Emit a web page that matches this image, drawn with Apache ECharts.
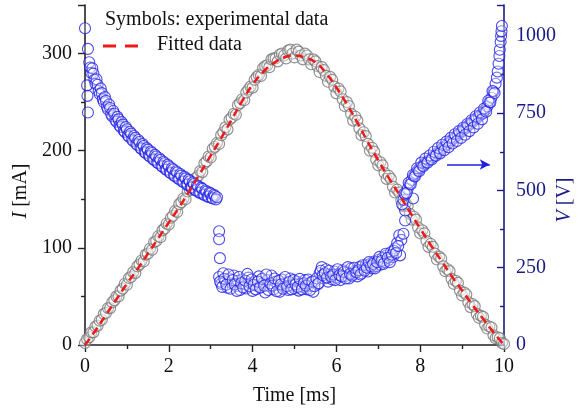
<!DOCTYPE html>
<html><head><meta charset="utf-8">
<script src="https://cdn.jsdelivr.net/npm/echarts@6/dist/echarts.min.js"></script>
<style>html,body{margin:0;padding:0;background:#fff}#c{width:582px;height:411px}</style>
</head><body><div id="c"></div>
<script>
// ---- Data ----
// Experimental current I [mA], sampled every 0.05 ms from 0 to 10 ms
const expTime = [0,0.05,0.1,0.15,0.2,0.25,0.3,0.35,0.4,0.45,0.5,0.55,0.6,0.65,0.7,0.75,0.8,0.85,0.9,0.95,
1,1.05,1.1,1.15,1.2,1.25,1.3,1.35,1.4,1.45,1.5,1.55,1.6,1.65,1.7,1.75,1.8,1.85,1.9,1.95,
2,2.05,2.1,2.15,2.2,2.25,2.3,2.35,2.4,2.45,2.5,2.55,2.6,2.65,2.7,2.75,2.8,2.85,2.9,2.95,
3,3.05,3.1,3.15,3.2,3.25,3.3,3.35,3.4,3.45,3.5,3.55,3.6,3.65,3.7,3.75,3.8,3.85,3.9,3.95,
4,4.05,4.1,4.15,4.2,4.25,4.3,4.35,4.4,4.45,4.5,4.55,4.6,4.65,4.7,4.75,4.8,4.85,4.9,4.95,
5,5.05,5.1,5.15,5.2,5.25,5.3,5.35,5.4,5.45,5.5,5.55,5.6,5.65,5.7,5.75,5.8,5.85,5.9,5.95,
6,6.05,6.1,6.15,6.2,6.25,6.3,6.35,6.4,6.45,6.5,6.55,6.6,6.65,6.7,6.75,6.8,6.85,6.9,6.95,
7,7.05,7.1,7.15,7.2,7.25,7.3,7.35,7.4,7.45,7.5,7.55,7.6,7.65,7.7,7.75,7.8,7.85,7.9,7.95,
8,8.05,8.1,8.15,8.2,8.25,8.3,8.35,8.4,8.45,8.5,8.55,8.6,8.65,8.7,8.75,8.8,8.85,8.9,8.95,
9,9.05,9.1,9.15,9.2,9.25,9.3,9.35,9.4,9.45,9.5,9.55,9.6,9.65,9.7,9.75,9.8,9.85,9.9,9.95,10];
const expCurrent = [2,6,8,13,13,19,20,25,26,32,33,38,38,44,46,50,50,56,58,63,
62,69,70,75,74,81,83,87,86,93,94,99,98,106,107,112,111,118,120,125,
124,131,133,138,137,145,147,151,150,158,160,165,164,172,174,179,178,187,189,194,
193,202,204,208,207,216,219,224,222,232,234,238,237,247,249,253,252,260,263,266,
265,273,276,278,277,285,287,288,286,294,295,295,292,299,300,298,295,303,304,300,
296,304,302,298,294,300,298,294,289,294,292,287,281,286,283,277,271,276,273,266,
259,264,261,253,246,250,246,238,231,235,231,223,216,219,215,207,200,203,199,191,
185,188,185,177,171,174,171,163,157,160,157,149,143,146,143,135,129,132,129,121,
115,118,115,107,101,104,101,94,88,91,89,81,76,78,76,68,63,66,64,56,
51,54,52,44,39,42,40,32,28,30,29,21,17,19,18,10,7,8,7,2,1];
// Fitted curve I [mA], every 0.25 ms
const fitTime = [0,0.25,0.5,0.75,1,1.25,1.5,1.75,2,2.25,2.5,2.75,3,3.25,3.5,3.75,4,4.25,4.5,4.75,5,5.25,5.5,5.75,6,6.25,6.5,6.75,7,7.25,7.5,7.75,8,8.25,8.5,8.75,9,9.25,9.5,9.75,10];
const fitCurrent = [0,15,31,47,63,78,94,110,126,142,159,177,195,213,232,251,268,281,290,296,298,296,291,280,265,248,229,209,190,172,155,137,120,103,87,71,56,41,27,13,0];

// Voltage V [V]: initial scattered points
const voltStartT = [0,0.07,0.05,0.06,0.07];
const voltStartV = [1025,958,840,806,752];
// Voltage: decaying band 0.1 - 3.15 ms
const voltDecayT = [0.1,0.125,0.15,0.175,0.2,0.225,0.25,0.275,0.3,0.325,0.35,0.375,0.4,0.425,0.45,0.475,0.5,0.525,0.55,0.575,
0.6,0.625,0.65,0.675,0.7,0.725,0.75,0.775,0.8,0.825,0.85,0.875,0.9,0.925,0.95,0.975,1,1.025,1.05,1.075,
1.1,1.125,1.15,1.175,1.2,1.225,1.25,1.275,1.3,1.325,1.35,1.375,1.4,1.425,1.45,1.475,1.5,1.525,1.55,1.575,
1.6,1.625,1.65,1.675,1.7,1.725,1.75,1.775,1.8,1.825,1.85,1.875,1.9,1.925,1.95,1.975,2,2.025,2.05,2.075,
2.1,2.125,2.15,2.175,2.2,2.225,2.25,2.275,2.3,2.325,2.35,2.375,2.4,2.425,2.45,2.475,2.5,2.525,2.55,2.575,
2.6,2.625,2.65,2.675,2.7,2.725,2.75,2.775,2.8,2.825,2.85,2.875,2.9,2.925,2.95,2.975,3,3.025,3.05,3.075,3.1,3.125,3.15];
const voltDecayV = [915,898,880,895,878,858,845,860,842,822,812,830,815,795,786,802,790,770,762,778,
767,747,740,757,748,728,722,738,730,710,705,721,713,693,689,705,698,678,674,690,
684,664,660,676,670,650,647,663,657,637,634,650,644,624,621,637,632,612,610,626,
621,601,599,615,610,590,588,604,599,579,577,593,588,568,567,583,578,558,556,572,
568,548,546,562,558,538,537,553,548,528,528,544,539,519,519,535,530,510,510,526,
521,501,501,517,513,493,493,509,505,486,486,500,496,480,480,493,490,476,474,486,482,471,478];
// Voltage: low plateau 3.2 - 7.55 ms
const voltPlateauT = [3.2,3.2,3.22,
3.2,3.25,3.3,3.35,3.4,3.45,3.5,3.55,3.6,3.65,3.7,3.75,3.8,3.85,3.9,3.95,4,4.05,4.1,4.15,4.2,4.25,4.3,4.35,4.4,4.45,4.5,4.55,4.6,4.65,4.7,4.75,4.8,4.85,4.9,4.95,5,5.05,5.1,5.15,5.2,5.25,5.3,5.35,5.4,5.45,5.5,5.55,5.6,5.65,5.7,5.75,5.8,5.85,5.9,5.95,6,6.05,6.1,6.15,6.2,6.25,6.3,6.35,6.4,6.45,6.5,6.55,6.6,6.65,6.7,6.75,6.8,6.85,6.9,6.95,7,7.05,7.1,7.15,7.2,7.25,7.3,7.35,7.4,7.45,7.5,7.52,7.55,
3.225,3.275,3.325,3.375,3.425,3.475,3.525,3.575,3.625,3.675,3.725,3.775,3.825,3.875,3.925,3.975,4.025,4.075,4.125,4.175,4.225,4.275,4.325,4.375,4.425,4.475,4.525,4.575,4.625,4.675,4.725,4.775,4.825,4.875,4.925,4.975,5.025,5.075,5.125,5.175,5.225,5.275,5.325,5.375,5.425,5.475,5.525,5.575,5.625,5.675,5.725,5.775,5.825,5.875,5.925,5.975,6.025,6.075,6.125,6.175,6.225,6.275,6.325,6.375,6.425,6.475,6.525,6.575,6.625,6.675,6.725,6.775,6.825,6.875,6.925,6.975,7.025,7.075,7.125,7.175,7.225,7.275,7.325,7.375,7.425,7.475];
const voltPlateauV = [368,342,281,
220,198,232,205,185,215,200,225,190,208,178,212,196,183,218,200,175,206,192,222,186,200,170,210,190,225,180,205,195,172,212,188,200,178,215,192,183,205,176,198,188,210,180,200,190,172,206,196,232,252,215,245,205,228,212,238,218,230,210,242,222,235,215,248,228,240,222,252,232,245,258,238,262,248,270,255,275,260,282,268,290,275,300,285,312,330,355,290,340,
205,188,214,195,228,182,210,196,175,220,200,186,208,230,190,212,195,180,205,186,214,192,228,178,200,192,215,174,208,196,182,220,190,204,180,210,196,188,214,180,200,192,212,178,205,190,215,200,240,226,232,218,240,222,228,210,245,226,222,236,215,252,230,224,250,235,242,228,258,240,250,268,255,262,248,268,285,272,262,295,282,268,292,305,298,320];
// Voltage: jump and rising band 7.57 - 9.95 ms
const voltRiseT = [7.6,7.64,7.64,7.83,
7.57,7.6,7.65,7.7,7.75,7.8,7.85,7.9,7.95,8,8.05,8.1,8.15,8.2,8.25,8.3,8.35,8.4,8.45,8.5,8.55,8.6,8.65,8.7,8.75,8.8,8.85,8.9,8.95,9,9.05,9.1,9.15,9.2,9.25,9.3,9.35,9.4,9.45,9.5,9.55,9.6,9.65,9.7,9.75,9.8,9.83,9.85,9.87,9.89,9.9,9.92,9.93,9.94,9.95,
7.625,7.675,7.725,7.775,7.825,7.875,7.925,7.975,8.025,8.075,8.125,8.175,8.225,8.275,8.325,8.375,8.425,8.475,8.525,8.575,8.625,8.675,8.725,8.775,8.825,8.875,8.925,8.975,9.025,9.075,9.125,9.175,9.225,9.275,9.325,9.375,9.425,9.475,9.525,9.575,9.625,9.675,9.725,9.775];
const voltRiseV = [360,403,435,474,
455,470,487,505,520,534,546,556,565,573,580,586,592,597,602,608,614,620,626,632,638,644,650,656,662,668,674,680,686,692,698,704,710,716,722,728,734,740,745,750,760,772,785,800,820,845,865,885,910,935,955,980,1000,1015,1032,
490,492,525,520,550,545,572,562,590,578,603,590,613,600,625,612,637,620,648,630,658,640,670,652,682,660,692,670,703,680,715,692,727,704,740,716,752,730,765,755,790,785,822,815];

// Axis ticks
const xTicks = {min: 0, max: 10, step: 2};
const iTicks = {min: 0, max: 350, step: 100};
const vTicks = {min: 0, max: 1100, step: 250};
// Arrow annotation (data units: time ms, V)
const arrowFrom = [8.64, 584];
const arrowTo = [9.66, 584];

const pairs = (ts, vs) => ts.map((t, i) => [t, vs[i]]);
const expData = pairs(expTime, expCurrent);
const fitData = pairs(fitTime, fitCurrent);
const voltData = [].concat(pairs(voltStartT, voltStartV), pairs(voltDecayT, voltDecayV),
  pairs(voltPlateauT, voltPlateauV), pairs(voltRiseT, voltRiseV));

const SERIF = '"Liberation Serif","Times New Roman",serif';
const NAVY = '#1a1a86';
const BLUE = '#1e1ee8';
const plain = v => String(v);

const chart = echarts.init(document.getElementById('c'), null, {renderer: 'canvas'});
chart.setOption({
  animation: false,
  backgroundColor: '#fff',
  grid: {left: 85, right: 78, top: 5, bottom: 66, containLabel: false},
  xAxis: {
    type: 'value', min: xTicks.min, max: xTicks.max, interval: xTicks.step,
    axisLine: {show: true, lineStyle: {color: '#222', width: 1.6}},
    axisTick: {show: true, length: 7, lineStyle: {color: '#222', width: 1.4}},
    minorTick: {show: true, splitNumber: 2, length: 4, lineStyle: {color: '#222', width: 1.4}},
    splitLine: {show: false},
    axisLabel: {fontFamily: SERIF, fontSize: 20, color: '#111', margin: 12, formatter: plain},
    name: 'Time [ms]', nameLocation: 'middle', nameGap: 41,
    nameTextStyle: {fontFamily: SERIF, fontSize: 20, color: '#111'}
  },
  yAxis: [{
    type: 'value', min: iTicks.min, max: iTicks.max, interval: iTicks.step,
    position: 'left',
    axisLine: {show: true, lineStyle: {color: '#222', width: 1.6}},
    axisTick: {show: true, length: 7, lineStyle: {color: '#222', width: 1.4}},
    minorTick: {show: true, splitNumber: 2, length: 4, lineStyle: {color: '#222', width: 1.4}},
    splitLine: {show: false},
    axisLabel: {fontFamily: SERIF, fontSize: 20, color: '#111', margin: 13, showMaxLabel: false, formatter: plain}
  }, {
    type: 'value', min: vTicks.min, max: vTicks.max, interval: vTicks.step,
    position: 'right',
    axisLine: {show: true, lineStyle: {color: NAVY, width: 1.6}},
    axisTick: {show: true, inside: true, length: 7, lineStyle: {color: NAVY, width: 1.4}},
    minorTick: {show: true, splitNumber: 2, length: 4, lineStyle: {color: NAVY, width: 1.4}},
    splitLine: {show: false},
    axisLabel: {fontFamily: SERIF, fontSize: 20, color: NAVY, margin: 12, showMaxLabel: false, formatter: plain}
  }],
  series: [{
    type: 'scatter', name: 'I exp', yAxisIndex: 0, data: expData,
    symbol: 'circle', symbolSize: 11,
    itemStyle: {color: 'rgba(255,255,255,0.45)', borderColor: '#777777', borderWidth: 1.2},
    z: 2
  }, {
    type: 'scatter', name: 'V', yAxisIndex: 1, data: voltData,
    symbol: 'circle', symbolSize: 11,
    itemStyle: {color: 'rgba(255,255,255,0.35)', borderColor: BLUE, borderWidth: 1.1},
    z: 3,
    markLine: {
      silent: true, symbol: ['none', 'arrow'], symbolSize: [8, 10],
      label: {show: false},
      lineStyle: {color: BLUE, width: 1.6, type: 'solid'},
      data: [[{coord: arrowFrom}, {coord: arrowTo}]]
    }
  }, {
    type: 'line', name: 'Fitted data', yAxisIndex: 0, data: fitData,
    smooth: true, showSymbol: false, symbol: 'none',
    lineStyle: {color: '#ee1b1b', width: 2.6, type: [8, 5]},
    z: 4
  }],
  graphic: [
    {type: 'text', left: 105, top: 10, style: {text: 'Symbols: experimental data', font: '20px ' + SERIF, fill: '#111'}},
    {type: 'line', shape: {x1: 103, y1: 46, x2: 139, y2: 46}, style: {stroke: '#ee1b1b', lineWidth: 3, lineDash: [13, 9]}},
    {type: 'text', left: 157, top: 35, style: {text: 'Fitted data', font: '20px ' + SERIF, fill: '#111'}},
    {type: 'text', x: 21, y: 191, rotation: Math.PI / 2,
      style: {text: '{i|I} [mA]', font: '20px ' + SERIF, fill: '#111', align: 'center', verticalAlign: 'middle',
        rich: {i: {fontStyle: 'italic', fontFamily: SERIF, fontSize: 20}}}},
    {type: 'text', x: 565, y: 200, rotation: Math.PI / 2,
      style: {text: '{i|V} [V]', font: '20px ' + SERIF, fill: NAVY, align: 'center', verticalAlign: 'middle',
        rich: {i: {fontStyle: 'italic', fontFamily: SERIF, fontSize: 20, color: NAVY}}}}
  ]
});
</script>
</body></html>
